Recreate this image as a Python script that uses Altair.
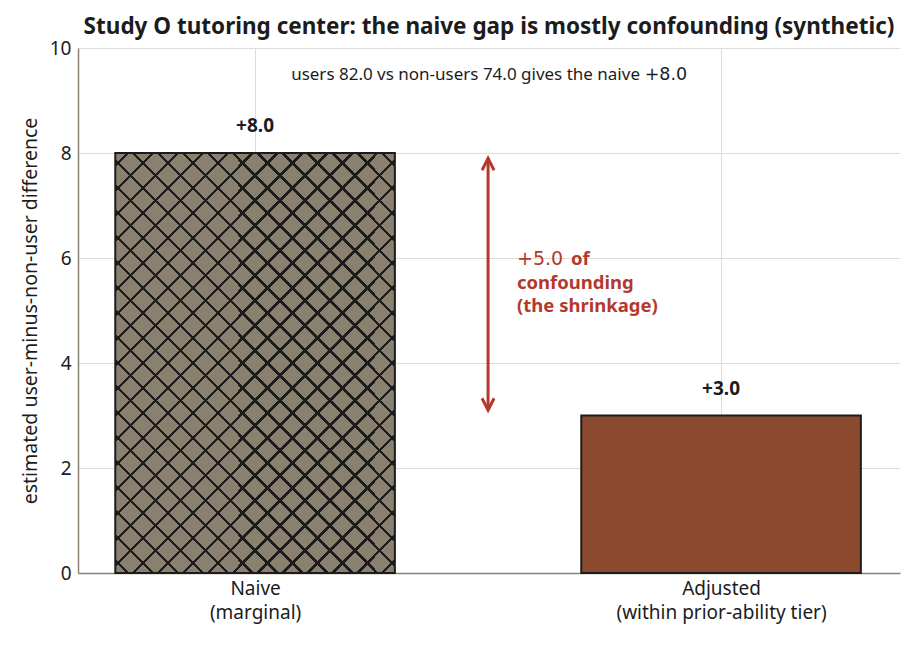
import altair as alt
import pandas as pd

categories = ["Naive", "Adjusted"]
category_notes = ["(marginal)", "(within prior-ability tier)"]
positions = [0, 1]
estimates = [8.0, 3.0]
value_labels = ["+8.0", "+3.0"]

users_mean = 82.0
non_users_mean = 74.0
naive_gap = 8.0
confounding = 5.0
arrow_from = 3.1
arrow_to = 7.9

BASE = "#8a8070"
HATCH = "#1c1c1c"
ADJ = "#8b4a2e"
RED = "#b3392c"
SPINE = "#8c8272"
GRID = "#e0dbd5"
FONT = "Noto Sans"
MATH = "DejaVu Sans"

bars = pd.DataFrame({
    "category": categories,
    "pos": positions,
    "estimate": estimates,
    "label": value_labels,
})


def hatch(direction, back):
    # diagonal stripes as a gradient over the bar box (w 280px, h 420px)
    w, h = 280.0, 420.0
    a = (w + h) / (w * w + h * h)
    step, half = 25.0 / (w + h), 1.6 / (w + h)
    stops = [alt.GradientStop(offset=0, color=back)]
    t = step / 2
    while t + half < 1:
        stops += [
            alt.GradientStop(offset=t - half, color=back),
            alt.GradientStop(offset=t - half, color=HATCH),
            alt.GradientStop(offset=t + half, color=HATCH),
            alt.GradientStop(offset=t + half, color=back),
        ]
        t += step
    stops.append(alt.GradientStop(offset=1, color=back))
    if direction == "/":
        return alt.Gradient(gradient="linear", stops=stops, x1=0, y1=0, x2=w * a, y2=h * a)
    return alt.Gradient(gradient="linear", stops=stops, x1=0, y1=1, x2=w * a, y2=1 - h * a)


label_expr = " : ".join(
    f"datum.value == {p} ? ['{c}', '{n}']" for p, c, n in zip(positions, categories, category_notes)
) + " : ''"

x_scale = alt.Scale(domain=[-0.38, 1.384], nice=False, zero=False)
y_scale = alt.Scale(domain=[0, 10], nice=False)

base = alt.Chart(bars).transform_calculate(
    left="datum.pos - 0.3", right="datum.pos + 0.3"
)

x_enc = alt.X(
    "left:Q", scale=x_scale, title=None,
    axis=alt.Axis(values=positions, labelExpr=label_expr, grid=True, ticks=False,
                  labelPadding=6, labelFontSize=19, labelLineHeight=24, labelLimit=0),
)
y_enc = alt.Y(
    "estimate:Q", scale=y_scale, title="estimated user-minus-non-user difference",
    axis=alt.Axis(values=[0, 2, 4, 6, 8, 10], grid=True, ticks=False,
                  labelPadding=7, labelFontSize=19, titleFontSize=19.5,
                  titleFontWeight="normal", titlePadding=9),
)

naive_under = base.transform_filter("datum.pos == 0").mark_bar(
    fill=hatch("/", BASE), strokeWidth=0
).encode(x=x_enc, x2="right:Q", y=y_enc, y2=alt.datum(0))

naive_over = base.transform_filter("datum.pos == 0").mark_bar(
    fill=hatch("\\", "rgba(0,0,0,0)"), stroke=HATCH, strokeWidth=2
).encode(x="left:Q", x2="right:Q", y="estimate:Q", y2=alt.datum(0))

adjusted = base.transform_filter("datum.pos == 1").mark_bar(
    fill=ADJ, stroke=HATCH, strokeWidth=2
).encode(x="left:Q", x2="right:Q", y="estimate:Q", y2=alt.datum(0))

value_text = alt.Chart(bars).mark_text(
    font=FONT, fontSize=19, fontWeight="bold", color="#1c1c1c", baseline="middle", dy=-27
).encode(x="pos:Q", y="estimate:Q", text="label:N")

top_note = pd.DataFrame({
    "x": [0.826, 0.836],
    "y": [9.49, 9.49],
    "text": [f"users {users_mean:.1f} vs non-users {non_users_mean:.1f} gives the naive", f"+{naive_gap:.1f}"],
})
top_main = alt.Chart(top_note.iloc[[0]]).mark_text(
    font=FONT, fontSize=17, color="#1c1c1c", align="right", baseline="middle"
).encode(x="x:Q", y="y:Q", text="text:N")
top_math = alt.Chart(top_note.iloc[[1]]).mark_text(
    font=MATH, fontSize=17.5, color="#1c1c1c", align="left", baseline="middle"
).encode(x="x:Q", y="y:Q", text="text:N")

arrow = pd.DataFrame({"x": [0.5], "y": [arrow_from], "y2": [arrow_to]})
arrow_line = alt.Chart(arrow).mark_rule(color=RED, strokeWidth=3).encode(
    x="x:Q", y="y:Q", y2="y2:Q"
)
head_up = alt.Chart(arrow).mark_point(
    shape="M-1,2L0,0L1,2", size=144, filled=False, color=RED, strokeWidth=3, opacity=1
).encode(x="x:Q", y="y2:Q")
head_down = alt.Chart(arrow).mark_point(
    shape="M-1,-2L0,0L1,-2", size=144, filled=False, color=RED, strokeWidth=3, opacity=1
).encode(x="x:Q", y="y:Q")

red_note = pd.DataFrame({
    "x": [0.562, 0.678, 0.562, 0.562],
    "y": [5.98, 5.98, 5.53, 5.08],
    "text": [f"+{confounding:.1f}", "of", "confounding", "(the shrinkage)"],
})
red_math = alt.Chart(red_note.iloc[[0]]).mark_text(
    font=MATH, fontSize=19, color=RED, align="left", baseline="middle"
).encode(x="x:Q", y="y:Q", text="text:N")
red_bold = alt.Chart(red_note.iloc[1:]).mark_text(
    font=FONT, fontSize=18.5, fontWeight="bold", color=RED, align="left", baseline="middle"
).encode(x="x:Q", y="y:Q", text="text:N")

chart = alt.layer(
    naive_under, naive_over, adjusted, value_text, top_main, top_math,
    arrow_line, head_up, head_down, red_math, red_bold,
).properties(
    width=822,
    height=525,
    autosize="none",
    padding={"left": 70, "top": 40, "right": 10, "bottom": 62},
    title=alt.TitleParams(
        "Study O tutoring center: the naive gap is mostly confounding (synthetic)",
        font=FONT, fontSize=22.5, fontWeight="bold", color="#1c1c1c",
        anchor="middle", frame="group", offset=1,
    ),
).configure_view(
    stroke=None
).configure_axis(
    domainColor=SPINE, domainWidth=1.5, gridColor=GRID, gridWidth=1,
    labelFont=FONT, titleFont=FONT, labelColor="#1c1c1c", titleColor="#1c1c1c",
)

chart.save("out.html", embed_options={"renderer": "svg", "actions": False})
